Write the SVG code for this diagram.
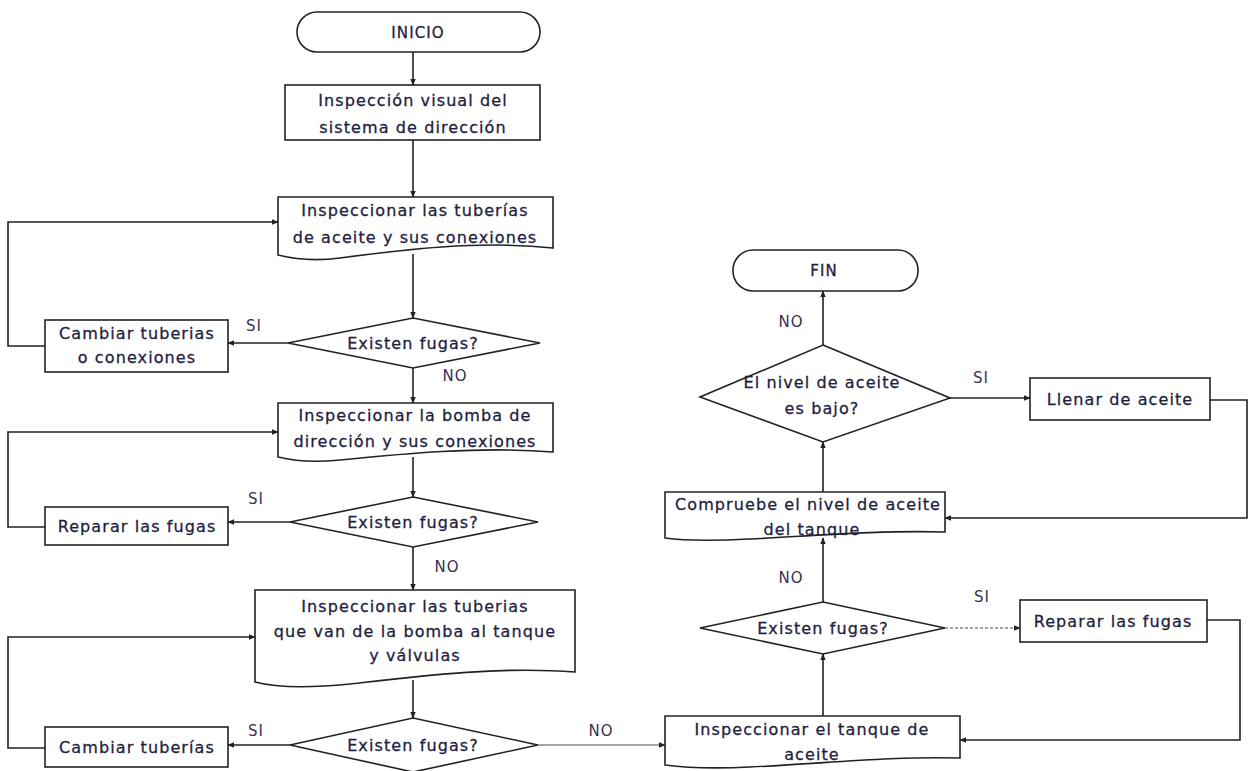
<svg xmlns="http://www.w3.org/2000/svg" width="1250" height="771" viewBox="0 0 1250 771">
<style>
.s{fill:#fff;stroke:#222;stroke-width:1.6}
.t{font-family:"DejaVu Sans",Verdana,sans-serif;font-size:16px;fill:#1e1e40;stroke:#1e1e40;stroke-width:0.3px;text-anchor:middle;letter-spacing:1.1px}
.l{font-family:"DejaVu Sans",Verdana,sans-serif;font-size:15px;fill:#3a3050;text-anchor:middle;letter-spacing:1px}
.c{fill:none;stroke:#222;stroke-width:1.6}
.g{fill:none;stroke:#888;stroke-width:1.6}
</style>
<defs>
<marker id="a" viewBox="0 0 10 10" refX="9" refY="5" markerWidth="7" markerHeight="7" orient="auto" markerUnits="userSpaceOnUse">
<path d="M0,1 L10,5 L0,9 z" fill="#222"/>
</marker>
</defs>
<rect width="1250" height="771" fill="#fff"/>
<g id="connectors">
<path class="c" d="M413,52 V85" marker-end="url(#a)"/>
<path class="c" d="M413,140 V197" marker-end="url(#a)"/>
<path class="c" d="M413,254 V318" marker-end="url(#a)"/>
<path class="c" d="M288,343 H228" marker-end="url(#a)"/>
<path class="c" d="M45,346 H8 V222 H278" marker-end="url(#a)"/>
<path class="c" d="M413,368 V403" marker-end="url(#a)"/>
<path class="c" d="M413,457 V497" marker-end="url(#a)"/>
<path class="c" d="M290,522 H228" marker-end="url(#a)"/>
<path class="c" d="M45,527 H8 V432 H278" marker-end="url(#a)"/>
<path class="c" d="M413,547 V590" marker-end="url(#a)"/>
<path class="c" d="M413,680 V718" marker-end="url(#a)"/>
<path class="c" d="M290,745 H228" marker-end="url(#a)"/>
<path class="c" d="M45,748 H8 V637 H255" marker-end="url(#a)"/>
<path class="g" d="M538,745 H665" marker-end="url(#a)"/>
<path class="c" d="M823,716 V654" marker-end="url(#a)"/>
<path class="c" d="M823,602 V538" marker-end="url(#a)"/>
<path class="g" d="M945,628 H1020" marker-end="url(#a)" stroke-dasharray="3,2"/>
<path class="c" d="M1207,620 H1240 V740 H960" marker-end="url(#a)"/>
<path class="c" d="M823,492 V442" marker-end="url(#a)"/>
<path class="c" d="M950,398 H1030" marker-end="url(#a)"/>
<path class="c" d="M1210,400 H1247 V518 H945" marker-end="url(#a)"/>
<path class="c" d="M823,345 V291" marker-end="url(#a)"/>
</g>
<g id="labels">
<text class="l" x="254" y="331">SI</text>
<text class="l" x="455" y="381">NO</text>
<text class="l" x="256" y="504">SI</text>
<text class="l" x="447" y="572">NO</text>
<text class="l" x="256" y="736">SI</text>
<text class="l" x="601" y="736">NO</text>
<text class="l" x="791" y="583">NO</text>
<text class="l" x="982" y="602">SI</text>
<text class="l" x="981" y="383">SI</text>
<text class="l" x="791" y="327">NO</text>
</g>
<g id="inicio">
<rect class="s" x="297" y="12" width="243" height="40" rx="20"/>
<text class="t" x="418" y="38" style="font-size:15px">INICIO</text>
</g>
<g id="inspeccion-visual">
<rect class="s" x="285" y="85" width="255" height="55"/>
<text class="t" x="413" y="106">Inspección visual del</text>
<text class="t" x="413" y="133">sistema de dirección</text>
</g>
<g id="insp-tuberias-aceite">
<path class="s" d="M278,197 H553 V248 C480,240 400,250 340,258 C310,262 290,258 278,255 Z"/>
<text class="t" x="415" y="216">Inspeccionar las tuberías</text>
<text class="t" x="415" y="243">de aceite y sus conexiones</text>
</g>
<g id="d1">
<polygon class="s" points="413,318 540,343 413,368 288,343"/>
<text class="t" x="413" y="349">Existen fugas?</text>
</g>
<g id="cambiar-tuberias-conexiones">
<rect class="s" x="45" y="320" width="183" height="52"/>
<text class="t" x="137" y="339">Cambiar tuberias</text>
<text class="t" x="137" y="363">o conexiones</text>
</g>
<g id="insp-bomba">
<path class="s" d="M278,403 H553 V452 C480,446 400,454 340,460 C310,463 290,460 278,457 Z"/>
<text class="t" x="415" y="421">Inspeccionar la bomba de</text>
<text class="t" x="415" y="447">dirección y sus conexiones</text>
</g>
<g id="d2">
<polygon class="s" points="413,497 538,522 413,547 290,522"/>
<text class="t" x="413" y="528">Existen fugas?</text>
</g>
<g id="reparar1">
<rect class="s" x="45" y="507" width="183" height="38"/>
<text class="t" x="137" y="532">Reparar las fugas</text>
</g>
<g id="insp-tuberias-tanque">
<path class="s" d="M255,590 H575 V672 C500,666 420,676 350,684 C300,689 270,686 255,682 Z"/>
<text class="t" x="415" y="612">Inspeccionar las tuberias</text>
<text class="t" x="415" y="637">que van de la bomba al tanque</text>
<text class="t" x="415" y="661">y válvulas</text>
</g>
<g id="d3">
<polygon class="s" points="413,718 538,745 413,772 290,745"/>
<text class="t" x="413" y="751">Existen fugas?</text>
</g>
<g id="cambiar-tuberias">
<rect class="s" x="45" y="727" width="183" height="40"/>
<text class="t" x="137" y="753">Cambiar tuberías</text>
</g>
<g id="insp-tanque">
<path class="s" d="M665,716 H960 V758 C890,756 820,764 750,767 C710,769 680,767 665,765 Z"/>
<text class="t" x="812" y="735">Inspeccionar el tanque de</text>
<text class="t" x="812" y="760">aceite</text>
</g>
<g id="d4">
<polygon class="s" points="823,602 945,628 823,654 700,628"/>
<text class="t" x="823" y="634">Existen fugas?</text>
</g>
<g id="reparar2">
<rect class="s" x="1020" y="600" width="187" height="42"/>
<text class="t" x="1113" y="627">Reparar las fugas</text>
</g>
<g id="compruebe">
<path class="s" d="M665,492 H945 V532 C880,530 810,536 750,539 C710,541 680,540 665,538 Z"/>
<text class="t" x="808" y="510">Compruebe el nivel de aceite</text>
<text class="t" x="812" y="535">del tanque</text>
</g>
<g id="d5">
<polygon class="s" points="823,345 950,398 823,442 700,397"/>
<text class="t" x="822" y="388">El nivel de aceite</text>
<text class="t" x="822" y="414">es bajo?</text>
</g>
<g id="llenar">
<rect class="s" x="1030" y="378" width="180" height="42"/>
<text class="t" x="1120" y="405">Llenar de aceite</text>
</g>
<g id="fin">
<rect class="s" x="733" y="250" width="185" height="41" rx="20"/>
<text class="t" x="824" y="276" style="font-size:15px">FIN</text>
</g>
</svg>
